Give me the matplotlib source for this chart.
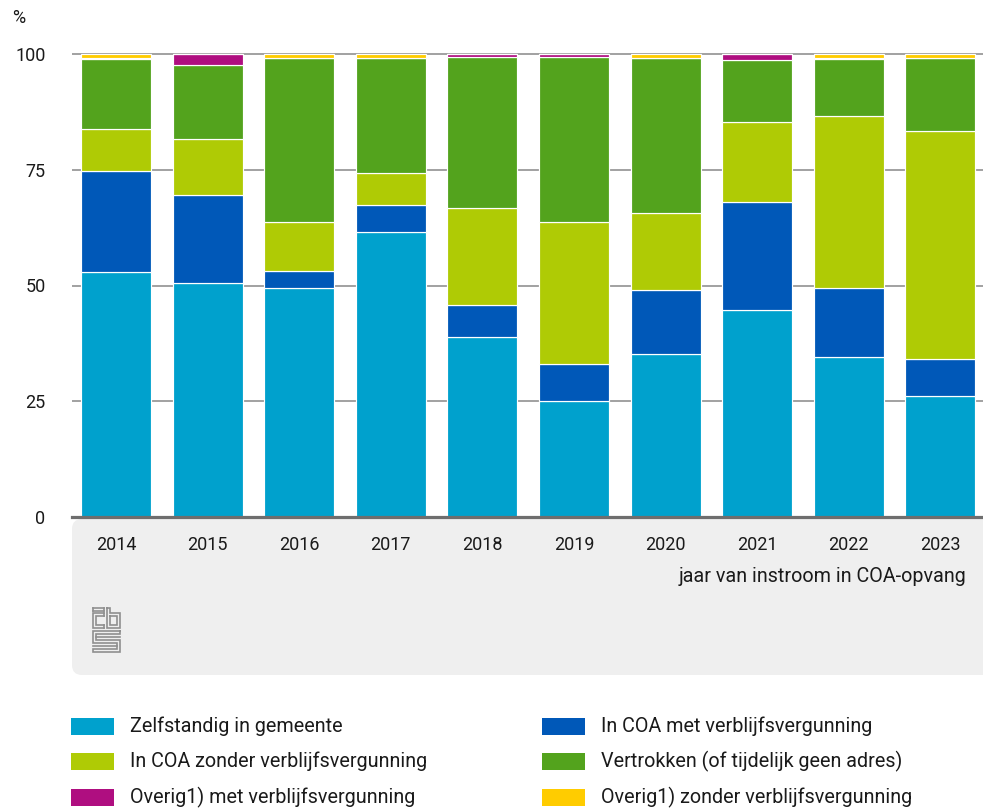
import matplotlib
matplotlib.use("Agg")
import matplotlib.pyplot as plt
from matplotlib.patches import FancyBboxPatch, Rectangle
import numpy as np

plt.rcParams['font.family'] = ['Roboto', 'DejaVu Sans']

years = ["2014", "2015", "2016", "2017", "2018", "2019", "2020", "2021", "2022", "2023"]
zelfstandig = [52.9, 50.5, 49.5, 61.6, 38.9, 25.0, 35.3, 44.8, 34.5, 26.1]
coa_met = [21.8, 19.1, 3.6, 5.8, 6.9, 8.1, 13.8, 23.2, 15.0, 8.1]
coa_zonder = [9.1, 12.0, 10.7, 6.9, 20.9, 30.6, 16.5, 17.3, 37.2, 49.2]
vertrokken = [15.1, 16.0, 35.4, 24.9, 32.6, 35.6, 33.6, 13.4, 12.2, 15.8]
overig_met = [0.3, 2.4, 0.0, 0.0, 0.7, 0.7, 0.0, 1.3, 0.3, 0.0]
overig_zonder = [0.8, 0.0, 0.8, 0.8, 0.0, 0.0, 0.8, 0.0, 0.8, 0.8]

series_names = ["Zelfstandig in gemeente", "In COA met verblijfsvergunning",
                "In COA zonder verblijfsvergunning", "Vertrokken (of tijdelijk geen adres)",
                "Overig1) met verblijfsvergunning", "Overig1) zonder verblijfsvergunning"]
series_vals = [zelfstandig, coa_met, coa_zonder, vertrokken, overig_met, overig_zonder]
colors = ["#00A1CD", "#0058B8", "#AFCB05", "#53A31D", "#AF0E80", "#FFCC00"]
yticks = [0, 25, 50, 75, 100]
xlabel = "jaar van instroom in COA-opvang"

W, H = 983, 809
fig = plt.figure(figsize=(W / 100, H / 100), dpi=100)

# background/decoration axes in pixel coords
bg = fig.add_axes([0, 0, 1, 1], zorder=0)
bg.set_xlim(0, W)
bg.set_ylim(H, 0)
bg.axis('off')

panel = FancyBboxPatch((72 + 10, 519 + 10), W - 72, 675 - 519 - 20,
                       boxstyle="round,pad=10,rounding_size=10",
                       fc="#EFEFEF", ec="none")
bg.add_patch(panel)

# CBS logo (approximation)
lc = "#8F8F8F"
lw = 1.2
def pl(xs, ys):
    bg.plot(xs, ys, color=lc, lw=lw, solid_joinstyle='miter')
# c
pl([104, 93, 93, 104], [613, 613, 628, 628])
pl([104, 96, 96, 104], [616, 616, 625, 625])
pl([104, 104], [613, 616]); pl([104, 104], [625, 628])
# b
pl([107, 110, 110, 120, 120, 107, 107], [608, 608, 613, 613, 628, 628, 608])
pl([110, 117, 117, 110, 110], [616, 616, 625, 625, 616])
# top bar of c
pl([93, 104], [608, 608]); pl([93, 93], [608, 611]); pl([93, 104], [611, 611]); pl([104, 104], [608, 611])
# S
pl([120, 93, 93, 117, 117, 93, 93, 120, 120, 96, 96, 120, 120],
   [631, 631, 643, 643, 649, 649, 652, 652, 640, 640, 634, 634, 631])
pl([120, 96], [637, 637])
pl([93, 117], [646, 646])

# main axes
left, right = 72 / W, 1.0
y0_px, y100_px = 517, 54
ppu = (y0_px - y100_px) / 100.0
ymax = 101
top_px = y0_px - ymax * ppu
ax = fig.add_axes([left, 1 - y0_px / H, right - left, (y0_px - top_px) / H], zorder=1)
ax.set_facecolor('none')

x = np.arange(len(years))
bottom = np.zeros(len(years))
for name, vals, col in zip(series_names, series_vals, colors):
    v = np.array(vals)
    ax.bar(x, v, bottom=bottom, width=0.764, color=col, edgecolor='white',
           linewidth=0.85, zorder=2, label=name)
    bottom += v

ax.set_xlim(-0.48, 9.465)
ax.set_ylim(0, ymax)
ax.set_yticks(yticks)
ax.set_yticklabels([str(t) for t in yticks])
ax.set_xticks(x)
ax.set_xticklabels(years)
for s in ax.spines.values():
    s.set_visible(False)
ax.yaxis.grid(True, color='#9A9A9A', lw=1.3, zorder=0)
ax.set_axisbelow(True)
ax.axhline(0, color='#6E6E6E', lw=2.3, zorder=3, clip_on=False)
ax.tick_params(axis='y', length=0, pad=19, labelsize=13, labelcolor='#1A1A1A')
ax.tick_params(axis='x', length=0, pad=14, labelsize=13, labelcolor='#1A1A1A')

fig.text(12 / W, 1 - 18 / H, "%", fontsize=13, color='#1A1A1A', va='center', ha='left')
bg.text(966, 576, xlabel, fontsize=14.2, color='#1A1A1A', ha='right', va='center')

# legend
order = [0, 2, 4, 1, 3, 5]
col_x = [71, 542]
row_y = [726, 761, 797]
for k, idx in enumerate(order):
    c, r = divmod(k, 3)
    bg.add_patch(Rectangle((col_x[c], row_y[r] - 8.5), 43, 17, fc=colors[idx], ec='none'))
    bg.text(col_x[c] + 59, row_y[r], series_names[idx], fontsize=14.2, color='#1A1A1A',
            ha='left', va='center')

fig.savefig("out.png", dpi=100)
